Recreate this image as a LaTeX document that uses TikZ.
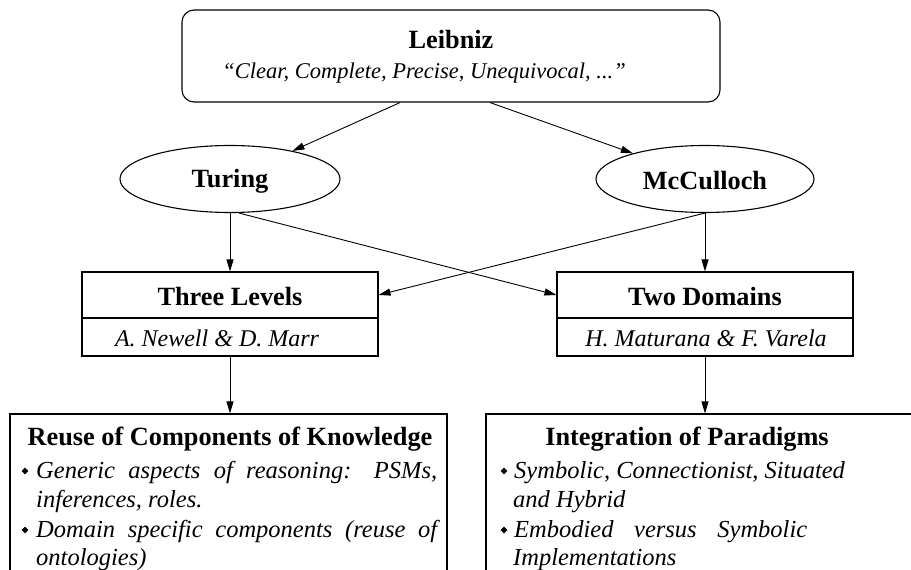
\documentclass[tikz,border=0pt]{standalone}
\usepackage{fontspec}
\setmainfont{Liberation Serif}
\usetikzlibrary{arrows.meta,shapes.geometric,calc}

\begin{document}
\begin{tikzpicture}[x=1pt,y=-1pt,
  arr/.style={-{Triangle[length=12pt,width=7pt]}, line width=0.9pt},
  frame/.style={draw, line width=1.1pt, inner sep=0pt},
  oval/.style={draw, ellipse, line width=1.1pt, inner sep=0pt},
  ttl/.style={font=\fontsize{26.3}{30}\selectfont\bfseries, inner sep=0pt},
  sub/.style={font=\fontsize{24}{28}\selectfont\itshape, inner sep=0pt},
  itemline/.style={font=\fontsize{24.5}{29}\selectfont\itshape, anchor=base west, inner sep=0pt},
  bullet/.style={diamond, fill, minimum size=7pt, inner sep=0pt},
]
\useasboundingbox (0,0) rectangle (911,570);

% --- top: Leibniz ---
\node[frame, rounded corners=12pt, minimum width=538pt, minimum height=92pt] (leib) at (451,56) {};
\node[ttl, anchor=base] (leibT) at (451,48) {Leibniz};
\node[sub, font=\fontsize{22.5}{27}\selectfont\itshape, anchor=base] (leibS) at (424,78)
  {``Clear, Complete, Precise, Unequivocal, ...''};

% --- second row: ellipses ---
\node[oval, minimum width=220pt, minimum height=67pt] (tur) at (230,179) {};
\node[ttl] (turT) at (230,181) {Turing};
\node[oval, minimum width=218pt, minimum height=67pt] (mcc) at (705,179) {};
\node[ttl] (mccT) at (705,181) {McCulloch};

% --- third row: two-part boxes ---
\node[frame, minimum width=296pt, minimum height=46pt] (tlT) at (230,295) {};
\node[frame, minimum width=296pt, minimum height=38pt] (tlB) at (230,337) {};
\node[ttl] (tlTt) at (230,297) {Three Levels};
\node[sub] (tlBt) at (217,338) {A. Newell \& D. Marr};

\node[frame, minimum width=296pt, minimum height=46pt] (tdT) at (705,295) {};
\node[frame, minimum width=296pt, minimum height=38pt] (tdB) at (705,337) {};
\node[ttl] (tdTt) at (705,297) {Two Domains};
\node[sub] (tdBt) at (706,338) {H. Maturana \& F. Varela};

% --- bottom row: lists ---
\node[frame, minimum width=437pt, minimum height=206pt] (reuse) at (228.5,517) {};
\node[ttl, anchor=base] (reuseT) at (230,445) {Reuse of Components of Knowledge};
\node[bullet] (rb1) at (25,471) {};
\node[itemline] (r1) at (36,478) {\makebox[401pt][s]{Generic aspects of reasoning: PSMs,}};
\node[itemline] (r2) at (36,507) {inferences, roles.};
\node[bullet] (rb2) at (25,530) {};
\node[itemline] (r3) at (36,537) {\makebox[401pt][s]{Domain specific components (reuse of}};
\node[itemline] (r4) at (36,565) {ontologies)};

\node[frame, minimum width=437pt, minimum height=206pt] (integ) at (704.5,517) {};
\node[ttl, anchor=base] (integT) at (687,445) {Integration of Paradigms};
\node[bullet] (ib1) at (504,471) {};
\node[itemline] (i1) at (514,478) {Symbolic, Connectionist, Situated};
\node[itemline] (i2) at (513,507) {and Hybrid};
\node[bullet] (ib2) at (504,530) {};
\node[itemline] (i3) at (514,537) {\makebox[293pt][s]{Embodied versus Symbolic}};
\node[itemline] (i4) at (513,565) {Implementations};

% --- connectors ---
\draw[arr] ($(leib.south)+(-51,0)$) -- (tur);
\draw[arr] ($(leib.south)+(39,0)$) -- (mcc);
\draw[arr] (tur.south) -- (tlT.north);
\draw[arr] (mcc.south) -- (tdT.north);
\draw[arr] ($(tur.south)+(9,0)$) -- (tdT.west);
\draw[arr] (mcc.south) -- (tlT.east);
\draw[arr] (tlB.south) -- (tlB.south |- reuse.north);
\draw[arr] (tdB.south) -- (tdB.south |- integ.north);
\end{tikzpicture}
\end{document}
